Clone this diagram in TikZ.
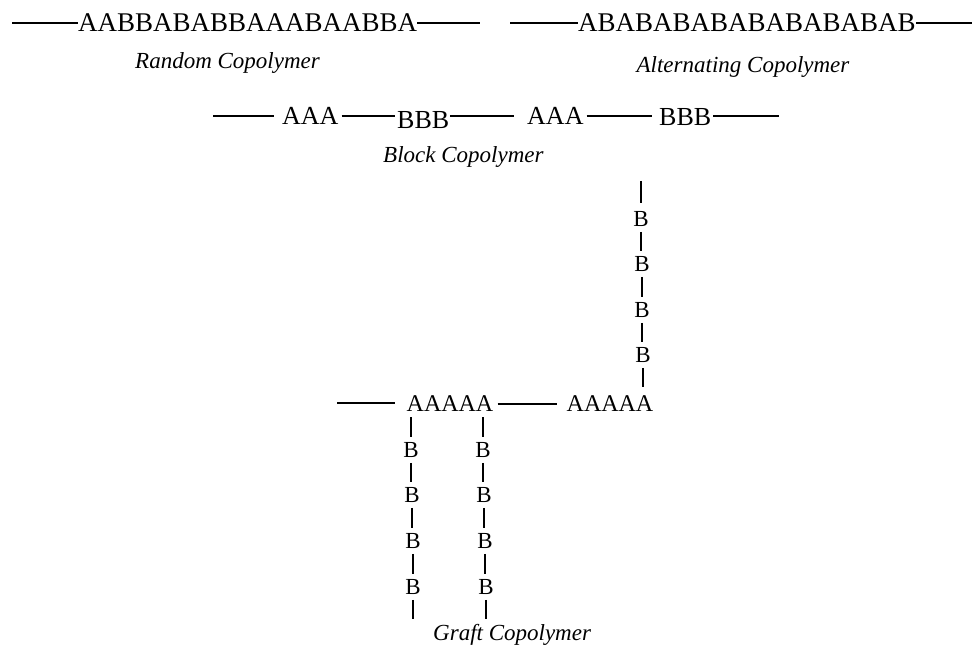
\documentclass[tikz,border=0pt]{standalone}
\usepackage{fontspec}
\setmainfont{Liberation Serif}
\begin{document}
\begin{tikzpicture}[x=1pt,y=-1pt,
  seq/.style={inner sep=0pt, font=\fontsize{27}{30}\selectfont},
  blk/.style={inner sep=0pt, font=\fontsize{26}{30}\selectfont},
  gA/.style={inner sep=0pt, font=\fontsize{24}{28}\selectfont},
  gB/.style={inner sep=0pt, font=\fontsize{23}{28}\selectfont},
  lab/.style={inner sep=0pt, font=\fontsize{23}{28}\selectfont\itshape},
  bond/.style={line width=1.5pt},
  link/.style={bond, shorten <=5pt, shorten >=5pt}]
\useasboundingbox (0,0) rectangle (974,652);

% Random copolymer
\node[seq, anchor=west] (rnd) at (78,23) {AABBABABBAAABAABBA};
\coordinate (rndL) at (12,23);
\coordinate (rndR) at (480,23);
\draw[bond] (rndL) -- (rnd.west);
\draw[bond] (rnd.east) -- (rndR);
\node[lab, anchor=base west] (rndlab) at (135,69) {Random Copolymer};

% Alternating copolymer
\node[seq, anchor=west] (alt) at (578,23) {ABABABABABABABABAB};
\coordinate (altL) at (510,23);
\coordinate (altR) at (972,23);
\draw[bond] (altL) -- (alt.west);
\draw[bond] (alt.east) -- (altR);
\node[lab, anchor=base] (altlab) at (743,73) {Alternating Copolymer};

% Block copolymer
\node[blk, anchor=west] (ba1) at (282,116) {AAA};
\node[blk, anchor=west] (bb1) at (397,120) {BBB};
\node[blk, anchor=west] (ba2) at (527,116) {AAA};
\node[blk, anchor=west] (bb2) at (659,117) {BBB};
\coordinate (blkL) at (213,116);
\coordinate (blkR) at (779,116);
\draw[bond, shorten >=8pt] (blkL) -- (ba1.west);
\draw[bond, shorten <=3pt, shorten >=2pt] (ba1.east) -- (ba1.east -| bb1.west);
\draw[bond, shorten <=1pt, shorten >=13pt] (bb1.east |- ba1.east) -- (ba2.west);
\draw[bond, shorten <=3pt, shorten >=7pt] (ba2.east) -- (ba2.east -| bb2.west);
\draw[bond, shorten <=2pt] (bb2.east |- ba1.east) -- (blkR);
\node[lab, anchor=base west] (blklab) at (383,163) {Block Copolymer};

% Graft copolymer backbone
\node[gA] (ga1) at (450,404) {AAAAA};
\node[gA] (ga2) at (610,404) {AAAAA};
\coordinate (grL) at (337,403);
\draw[bond, shorten >=11pt] (grL) -- (grL -| ga1.west);
\draw[bond, shorten <=4pt, shorten >=9pt] (ga1.east) -- (ga2.west);

% upper branch
\node[gB] (tb1) at (641,219) {B};
\node[gB] (tb2) at (642,264) {B};
\node[gB] (tb3) at (642,310) {B};
\node[gB] (tb4) at (643,355) {B};
\coordinate (tTop) at (641,181);
\coordinate (tBot) at (643,387);
\draw[bond, shorten >=8pt] (tTop) -- (tTop |- tb1.north);
\draw[link] (tb1.south) -- (tb1.south |- tb2.north);
\draw[link] (tb2.south) -- (tb2.south |- tb3.north);
\draw[link] (tb3.south) -- (tb3.south |- tb4.north);
\draw[bond, shorten <=5pt] (tb4.south) -- (tb4.south |- tBot);

% lower left branch
\node[gB] (lb1) at (411,450) {B};
\node[gB] (lb2) at (412,495) {B};
\node[gB] (lb3) at (413,541) {B};
\node[gB] (lb4) at (413,587) {B};
\coordinate (lTop) at (411,417);
\coordinate (lBot) at (413,619);
\draw[bond, shorten >=5pt] (lTop) -- (lTop |- lb1.north);
\draw[link] (lb1.south) -- (lb1.south |- lb2.north);
\draw[link] (lb2.south) -- (lb2.south |- lb3.north);
\draw[link] (lb3.south) -- (lb3.south |- lb4.north);
\draw[bond, shorten <=5pt] (lb4.south) -- (lb4.south |- lBot);

% lower right branch
\node[gB] (rb1) at (483,450) {B};
\node[gB] (rb2) at (484,495) {B};
\node[gB] (rb3) at (485,541) {B};
\node[gB] (rb4) at (486,587) {B};
\coordinate (rTop) at (483,417);
\coordinate (rBot) at (486,619);
\draw[bond, shorten >=5pt] (rTop) -- (rTop |- rb1.north);
\draw[link] (rb1.south) -- (rb1.south |- rb2.north);
\draw[link] (rb2.south) -- (rb2.south |- rb3.north);
\draw[link] (rb3.south) -- (rb3.south |- rb4.north);
\draw[bond, shorten <=5pt] (rb4.south) -- (rb4.south |- rBot);

\node[lab, anchor=base west] (grlab) at (433,640) {Graft Copolymer};
\end{tikzpicture}
\end{document}
